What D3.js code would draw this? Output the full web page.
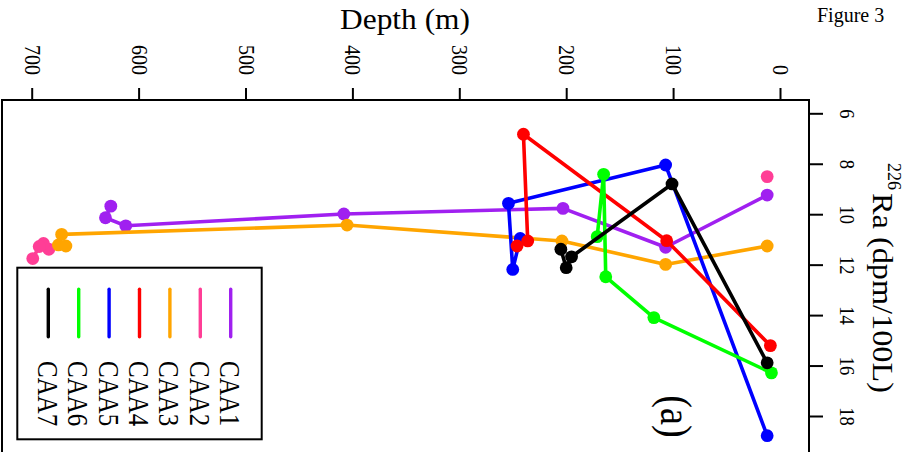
<!DOCTYPE html>
<html>
<head>
<meta charset="utf-8">
<script src="https://cdn.jsdelivr.net/npm/d3@7"></script>
<style>
  body { margin: 0; background: #fff; }
  svg { display: block; }
</style>
</head>
<body>
<div id="chart"></div>
<script>
// stations and their colours
const stations = ['CAA1', 'CAA2', 'CAA3', 'CAA4', 'CAA5', 'CAA6', 'CAA7'];
const colors = ['#a020f0', '#ff3e96', '#ffa500', '#ff0000', '#0000ff', '#00ff00', '#000000'];

// depth (m) and 226Ra (dpm/100L), in plotting order
const caa1Depth = [12, 107, 203, 408, 612, 631, 626];
const caa1Ra    = [9.24, 11.31, 9.77, 9.99, 10.46, 10.14, 9.68];
const caa2Depth = [12, 300, 684, 689, 693, 699];
const caa2Ra    = [8.51, null, 11.39, 11.16, 11.28, 11.76];
const caa3Depth = [12, 107, 204, 405, 672, 675, 668];
const caa3Ra    = [11.26, 11.99, 11.06, 10.43, 10.80, 11.22, 11.26];
const caa4Depth = [9, 106, 240, 236, 246];
const caa4Ra    = [15.21, 11.05, 6.83, 11.06, 11.26];
const caa5Depth = [12, 107, 254, 250, 243];
const caa5Ra    = [18.78, 8.05, 9.57, 12.19, 10.96];
const caa6Depth = [8, 118, 163, 165, 171];
const caa6Ra    = [16.29, 14.10, 12.48, 8.42, 10.89];
const caa7Depth = [12, 101, 195, 200, 205];
const caa7Ra    = [15.89, 8.80, 11.69, 12.12, 11.39];

const depthTicks = [0, 100, 200, 300, 400, 500, 600, 700];
const raTicks = [6, 8, 10, 12, 14, 16, 18];

const depths = [caa1Depth, caa2Depth, caa3Depth, caa4Depth, caa5Depth, caa6Depth, caa7Depth];
const ras = [caa1Ra, caa2Ra, caa3Ra, caa4Ra, caa5Ra, caa6Ra, caa7Ra];

const width = 911, height = 452;
const box = {left: 2, top: 100, right: 809, bottom: 475};
const font = 'Liberation Serif, Times New Roman, serif';

const svg = d3.select('#chart').append('svg')
    .attr('width', width)
    .attr('height', height)
    .attr('viewBox', `0 0 ${width} ${height}`);

// figure is drawn rotated: depth runs right-to-left, Ra runs downward
const x = d3.scaleLinear().domain([0, 700]).range([780, 31.7]);
const y = d3.scaleLinear().domain([6, 18]).range([113.3, 416]);

svg.append('rect')
    .attr('x', box.left)
    .attr('y', box.top)
    .attr('width', box.right - box.left)
    .attr('height', box.bottom - box.top)
    .attr('fill', 'none')
    .attr('stroke', '#000')
    .attr('stroke-width', 2);

const depthAxis = g => g
    .attr('transform', `translate(0,${box.top + 1})`)
    .call(d3.axisTop(x).tickValues(depthTicks).tickSize(13).tickFormat(d => d))
    .call(g => g.select('.domain').remove())
    .call(g => g.selectAll('.tick line').attr('stroke-width', 2))
    .call(g => g.selectAll('.tick text')
        .attr('x', null).attr('y', null).attr('dy', null)
        .attr('font-family', font)
        .attr('font-size', 20)
        .attr('text-anchor', 'end')
        .attr('transform', 'translate(-7.5,-26) scale(1.13,1) rotate(90)'));

svg.append('g').call(depthAxis);

const raAxis = g => g
    .attr('transform', `translate(${box.right},0)`)
    .call(d3.axisRight(y).tickValues(raTicks).tickSize(14).tickFormat(d => d))
    .call(g => g.select('.domain').remove())
    .call(g => g.selectAll('.tick line').attr('stroke-width', 2))
    .call(g => g.selectAll('.tick text')
        .attr('x', null).attr('y', null).attr('dy', null)
        .attr('font-family', font)
        .attr('font-size', 18.5)
        .attr('text-anchor', 'middle')
        .attr('transform', 'translate(31,0) scale(1.08,1) rotate(90)'));

svg.append('g').call(raAxis);

// axis titles
svg.append('text')
    .attr('x', 405)
    .attr('y', 29)
    .attr('text-anchor', 'middle')
    .attr('font-family', font)
    .attr('font-size', 29)
    .attr('textLength', 130)
    .attr('lengthAdjust', 'spacingAndGlyphs')
    .text('Depth (m)');

svg.append('text')
    .attr('transform', 'translate(888,163) rotate(90)')
    .attr('font-family', font)
    .attr('font-size', 18)
    .attr('textLength', 27)
    .attr('lengthAdjust', 'spacingAndGlyphs')
    .text('226');

svg.append('text')
    .attr('transform', 'translate(873,193) scale(1.1,1) rotate(90)')
    .attr('font-family', font)
    .attr('font-size', 27)
    .attr('textLength', 200)
    .attr('lengthAdjust', 'spacingAndGlyphs')
    .text('Ra (dpm/100L)');

svg.append('text')
    .attr('x', 817)
    .attr('y', 21.7)
    .attr('font-family', font)
    .attr('font-size', 20)
    .text('Figure 3');

svg.append('text')
    .attr('transform', 'translate(661,416.5) scale(1.15,1) rotate(90)')
    .attr('text-anchor', 'middle')
    .attr('font-family', font)
    .attr('font-size', 38.5)
    .text('(a)');

// profiles
const series = stations.map((name, i) => ({
  name,
  color: colors[i],
  points: d3.zip(depths[i], ras[i]).map(([depth, ra]) => ({depth, ra}))
}));

const line = d3.line()
    .defined(d => d.ra != null)
    .x(d => x(d.depth))
    .y(d => y(d.ra));

// CAA4 sits on top of CAA5 in the original
const drawOrder = ['CAA1', 'CAA2', 'CAA3', 'CAA5', 'CAA4', 'CAA6', 'CAA7'];

const profiles = svg.append('g')
  .selectAll('g')
  .data(drawOrder.map(n => series.find(s => s.name === n)))
  .join('g');

profiles.append('path')
    .attr('fill', 'none')
    .attr('stroke', d => d.color)
    .attr('stroke-width', 3.6)
    .attr('stroke-linejoin', 'round')
    .attr('d', d => line(d.points));

profiles.selectAll('circle')
  .data(d => d.points.filter(p => p.ra != null).map(p => ({...p, color: d.color})))
  .join('circle')
    .attr('cx', d => x(d.depth))
    .attr('cy', d => y(d.ra))
    .attr('r', 6.4)
    .attr('fill', d => d.color);

// legend
const legend = svg.append('g');

legend.append('rect')
    .attr('x', 17.3)
    .attr('y', 267.7)
    .attr('width', 244.4)
    .attr('height', 171.6)
    .attr('fill', '#fff')
    .attr('stroke', '#000')
    .attr('stroke-width', 2);

const item = legend.selectAll('g')
  .data(stations)
  .join('g')
    .attr('transform', (d, i) => `translate(${230.7 - i * 30.4},0)`);

item.append('line')
    .attr('y1', 289.3)
    .attr('y2', 336.7)
    .attr('stroke', (d, i) => colors[i])
    .attr('stroke-width', 3.4)
    .attr('stroke-linecap', 'round');

item.append('text')
    .attr('transform', 'translate(-10.5,361) scale(1.2,1) rotate(90)')
    .attr('font-family', font)
    .attr('font-size', 25)
    .text(d => d);
</script>
</body>
</html>
